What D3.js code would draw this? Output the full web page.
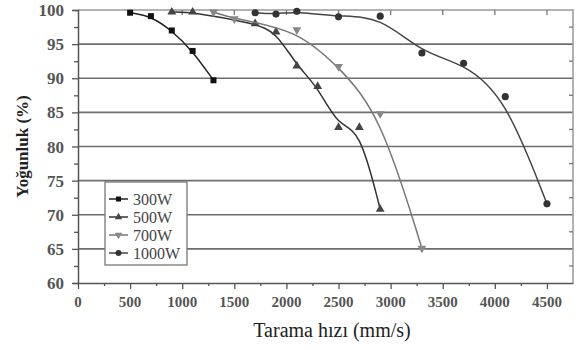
<!DOCTYPE html>
<html>
<head>
<meta charset="utf-8">
<script src="https://cdn.jsdelivr.net/npm/d3@7"></script>
<style>
  body { margin: 0; background: #fff; }
</style>
</head>
<body>
<div id="chart"></div>
<script>
// values
const speed300 = [500, 700, 900, 1100, 1300]
const dens300 = [99.6, 99.1, 97, 94, 89.7]
const speed500 = [900, 1100, 1700, 1900, 2100, 2300, 2500, 2700, 2900]
const dens500 = [99.7, 99.7, 98, 96.8, 91.8, 88.8, 82.8, 82.8, 70.8]
const speed700 = [1300, 1500, 2100, 2500, 2900, 3300]
const dens700 = [99.7, 98.7, 97.1, 91.7, 84.8, 65.1]
const speed1000 = [1700, 1900, 2100, 2500, 2900, 3300, 3700, 4100, 4500]
const dens1000 = [99.6, 99.4, 99.8, 99.0, 99.1, 93.7, 92.2, 87.3, 71.6]
const seriesNames = ['300W', '500W', '700W', '1000W']
const xTicks = [0, 500, 1000, 1500, 2000, 2500, 3000, 3500, 4000, 4500]
const yTicks = [60, 65, 70, 75, 80, 85, 90, 95, 100]

let width = 580
let height = 350
let margin = {top: 10, right: 7, bottom: 67, left: 78}
const serif = "'Liberation Serif'"

const series = [
  {name: seriesNames[0], xs: speed300, ys: dens300, line: '#222', fill: '#111', sym: d3.symbolSquare, size: 36},
  {name: seriesNames[1], xs: speed500, ys: dens500, line: '#333', fill: '#444', sym: d3.symbolTriangle, size: 34},
  {name: seriesNames[2], xs: speed700, ys: dens700, line: '#777', fill: '#888', sym: d3.symbolTriangle, size: 34, flip: true},
  {name: seriesNames[3], xs: speed1000, ys: dens1000, line: '#444', fill: '#333', sym: d3.symbolCircle, size: 40}
]

let svg = d3.select('#chart').append('svg')
  .attr('width', width)
  .attr('height', height)

let x = d3.scaleLinear()
  .domain([0, 4750])
  .range([margin.left, width - margin.right])

let y = d3.scaleLinear()
  .domain([60, 100])
  .range([height - margin.bottom, margin.top])

// horizontal grid
svg.append('g')
  .selectAll('line')
  .data(yTicks.filter(v => v > 60 && v < 100))
  .join('line')
  .attr('x1', x(0)).attr('x2', x.range()[1])
  .attr('y1', d => y(d)).attr('y2', d => y(d))
  .attr('stroke', '#6e6e6e')
  .attr('stroke-width', 1.6)

// frame top + right
svg.append('path')
  .attr('d', `M${x(0)},${y(100)}H${x.range()[1]}V${y(60)}`)
  .attr('fill', 'none')
  .attr('stroke', '#999')
  .attr('stroke-width', 1.5)

// top ticks (inside)
svg.append('g')
  .selectAll('line')
  .data(xTicks.slice(1))
  .join('line')
  .attr('x1', d => x(d)).attr('x2', d => x(d))
  .attr('y1', y(100)).attr('y2', y(100) + 5)
  .attr('stroke', '#777').attr('stroke-width', 1.3)

// right ticks (inside, minor)
svg.append('g')
  .selectAll('line')
  .data(d3.range(62.5, 100, 5))
  .join('line')
  .attr('x1', x.range()[1]).attr('x2', x.range()[1] - 4)
  .attr('y1', d => y(d)).attr('y2', d => y(d))
  .attr('stroke', '#777').attr('stroke-width', 1.3)

// y axis
let yAxis = svg.append('g')
  .attr('transform', `translate(${x(0)},0)`)
  .call(d3.axisLeft(y).tickValues(d3.range(60, 100.1, 2.5)).tickSize(5).tickFormat(''))
yAxis.select('.domain').attr('stroke', '#555').attr('stroke-width', 1.5)
yAxis.selectAll('.tick line').attr('stroke', '#555').attr('stroke-width', 1.3)
  .attr('x2', d => d % 5 === 0 ? -6 : -4)

svg.append('g')
  .selectAll('text')
  .data(yTicks)
  .join('text')
  .attr('x', x(0) - 14)
  .attr('y', d => y(d) + 6)
  .attr('text-anchor', 'end')
  .style('font-family', serif)
  .style('font-size', '17px')
  .style('font-weight', 'bold')
  .attr('fill', '#555')
  .text(d => d)

// x axis
let xAxis = svg.append('g')
  .attr('transform', `translate(0,${y(60)})`)
  .call(d3.axisBottom(x).tickValues(d3.range(0, 4501, 250)).tickSize(6).tickFormat('').tickSizeOuter(0))
xAxis.select('.domain').attr('stroke', '#555').attr('stroke-width', 1.5)
xAxis.selectAll('.tick line').attr('stroke', '#555').attr('stroke-width', 1.3)
  .attr('y2', d => d % 500 === 0 ? 6 : 3)

svg.append('g')
  .selectAll('text')
  .data(xTicks)
  .join('text')
  .attr('x', d => x(d))
  .attr('y', y(60) + 24)
  .attr('text-anchor', 'middle')
  .style('font-family', serif)
  .style('font-size', '15px')
  .style('font-weight', 'bold')
  .attr('fill', '#555')
  .text(d => d)

// titles
svg.append('text')
  .attr('transform', `translate(28,${(y(60) + y(100)) / 2}) rotate(-90)`)
  .attr('text-anchor', 'middle')
  .style('font-family', serif)
  .style('font-size', '17px')
  .style('font-weight', 'bold')
  .attr('fill', '#222')
  .text('Yoğunluk (%)')

svg.append('text')
  .attr('x', 332)
  .attr('y', 337)
  .attr('text-anchor', 'middle')
  .style('font-family', serif)
  .style('font-size', '20px')
  .attr('fill', '#222')
  .text('Tarama hızı (mm/s)')

// series, smoothed like the original (spline does not hit every marker)
const line = d3.line()
  .x(d => x(d[0]))
  .y(d => y(d[1]))
  .curve(d3.curveBasis)

series.forEach(s => {
  let pts = s.xs.map((v, i) => [v, s.ys[i]])
  svg.append('path')
    .datum(pts)
    .attr('fill', 'none')
    .attr('stroke', s.line)
    .attr('stroke-width', 1.5)
    .attr('d', line)
  svg.append('g')
    .selectAll('path')
    .data(pts)
    .join('path')
    .attr('transform', d => `translate(${x(d[0])},${y(d[1])})` + (s.flip ? ' rotate(180)' : ''))
    .attr('d', d3.symbol(s.sym, s.size))
    .attr('fill', s.fill)
})

// legend
let lg = svg.append('g').attr('transform', 'translate(105,182)')
lg.append('rect')
  .attr('width', 82).attr('height', 83)
  .attr('fill', '#fff')
  .attr('stroke', '#777')
  .attr('stroke-width', 1.3)

let rows = lg.selectAll('g')
  .data(series)
  .join('g')
  .attr('transform', (d, i) => `translate(0,${17 + i * 18})`)
rows.append('line')
  .attr('x1', 4).attr('x2', 23)
  .attr('stroke', d => d.line).attr('stroke-width', 1.5)
rows.append('path')
  .attr('transform', d => 'translate(13.5,0)' + (d.flip ? ' rotate(180)' : ''))
  .attr('d', d => d3.symbol(d.sym, d.size * 0.7)())
  .attr('fill', d => d.fill)
rows.append('text')
  .attr('x', 28).attr('y', 5.5)
  .style('font-family', serif)
  .style('font-size', '16px')
  .attr('fill', '#444')
  .text(d => d.name)
</script>
</body>
</html>
